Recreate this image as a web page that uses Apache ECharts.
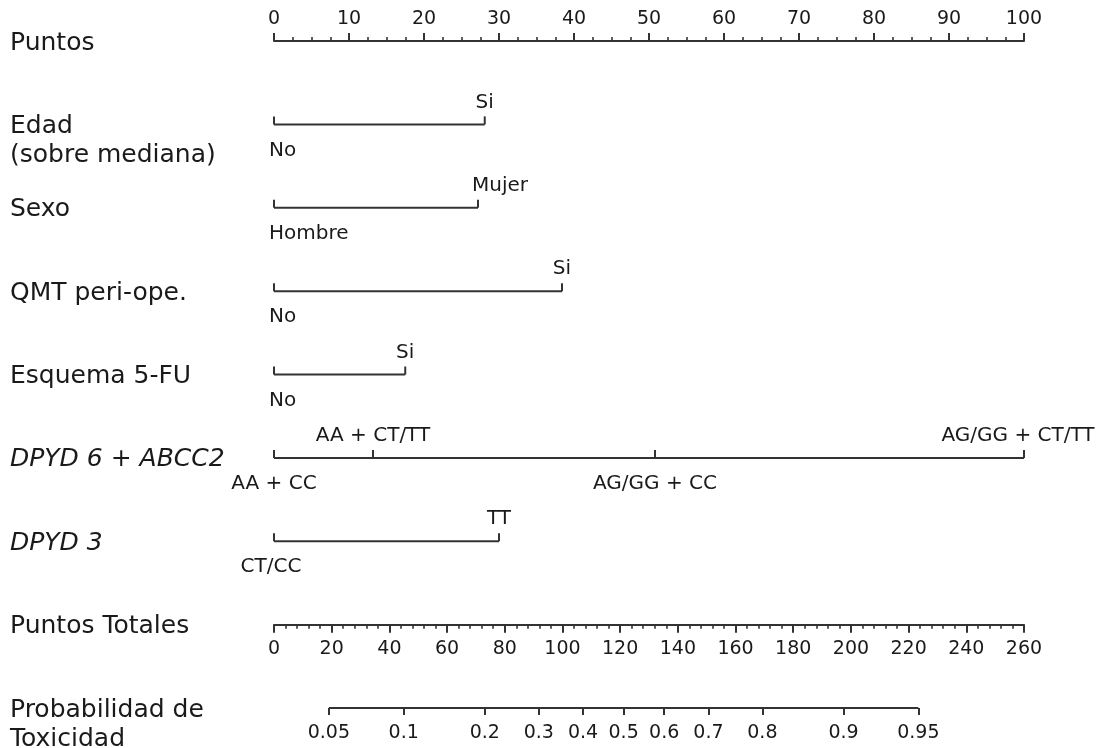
<!DOCTYPE html>
<html>
<head>
<meta charset="utf-8">
<script src="https://cdn.jsdelivr.net/npm/echarts@6.0.0/dist/echarts.min.js"></script>
<style>html,body{margin:0;padding:0;background:#fff;}#chart{width:1108px;height:748px;}</style>
</head>
<body>
<div id="chart"></div>
<script>
// ---------------- data ----------------
const rowNames = ['Puntos', 'Edad\n(sobre mediana)', 'Sexo', 'QMT peri-ope.', 'Esquema 5-FU',
  'DPYD 6 + ABCC2', 'DPYD 3', 'Puntos Totales', 'Probabilidad de\nToxicidad'];

const edadLevels = ['No', 'Si'];
const edadPoints = [0, 28.1];
const sexoLevels = ['Hombre', 'Mujer'];
const sexoPoints = [0, 27.2];
const qmtLevels = ['No', 'Si'];
const qmtPoints = [0, 38.4];
const esquemaLevels = ['No', 'Si'];
const esquemaPoints = [0, 17.5];
const dpyd6Levels = ['AA + CC', 'AA + CT/TT', 'AG/GG + CC', 'AG/GG + CT/TT'];
const dpyd6Points = [0, 13.2, 50.8, 100];
const dpyd3Levels = ['CT/CC', 'TT'];
const dpyd3Points = [0, 30.0];

const pointsMax = 100;
const totalPointsMax = 260;
const probTicks = [0.05, 0.1, 0.2, 0.3, 0.4, 0.5, 0.6, 0.7, 0.8, 0.9, 0.95];
// logistic model: total points at p=0.5, total points per logit unit
const lpCenter = 121.2;
const lpScale = 34.7;

// ---------------- layout / style ----------------
const LINE = '#333333';
const TEXT = '#1a1a1a';
const FONT = 'DejaVu Sans';
const LW = 2;
const GRID = { left: 274, right: 84, top: 41, bottom: 40 };
const rowStep = (748 - GRID.top - GRID.bottom) / (rowNames.length - 1);

const variables = [
  { row: rowNames[1], levels: edadLevels, points: edadPoints },
  { row: rowNames[2], levels: sexoLevels, points: sexoPoints },
  { row: rowNames[3], levels: qmtLevels, points: qmtPoints },
  { row: rowNames[4], levels: esquemaLevels, points: esquemaPoints },
  { row: rowNames[5], levels: dpyd6Levels, points: dpyd6Points },
  { row: rowNames[6], levels: dpyd3Levels, points: dpyd3Points }
];
// label tweaks (alignment only)
const labelTweaks = {
  'Edad\n(sobre mediana)|No': { align: 'left', offset: [-5, 0] },
  'Sexo|Hombre': { align: 'left', offset: [-5, 0] },
  'Sexo|Mujer': { offset: [22, 0] },
  'QMT peri-ope.|No': { align: 'left', offset: [-5, 0] },
  'Esquema 5-FU|No': { align: 'left', offset: [-5, 0] },
  'DPYD 6 + ABCC2|AG/GG + CT/TT': { offset: [-6, 0] },
  'DPYD 3|CT/CC': { offset: [-3, 0] }
};

const logit = p => Math.log(p / (1 - p));
const tpOfProb = p => lpCenter + lpScale * logit(p);
const probOfTp = v => 1 / (1 + Math.exp(-(v - lpCenter) / lpScale));
const probTickTp = probTicks.map(tpOfProb);

const series = [];
variables.forEach(v => {
  const maxPts = Math.max.apply(null, v.points);
  series.push({
    type: 'line', xAxisIndex: 0, yAxisIndex: 0, silent: true,
    symbol: 'none', lineStyle: { color: LINE, width: LW },
    data: [[0, v.row], [maxPts, v.row]]
  });
  const order = v.points.map((p, i) => i).sort((a, b) => v.points[a] - v.points[b]);
  series.push({
    type: 'scatter', xAxisIndex: 0, yAxisIndex: 0, silent: true,
    symbol: 'rect', symbolSize: [LW, 8], symbolOffset: [0, -4],
    itemStyle: { color: LINE, opacity: 1 },
    data: order.map((idx, k) => {
      const tw = labelTweaks[v.row + '|' + v.levels[idx]] || {};
      const above = k % 2 === 1;
      return {
        value: [v.points[idx], v.row],
        name: v.levels[idx],
        label: Object.assign({
          position: above ? 'top' : 'bottom',
          distance: above ? 4 : 16
        }, tw)
      };
    }),
    label: { show: true, formatter: p => p.name, fontSize: 20, color: TEXT, fontFamily: FONT }
  });
});
// probability axis line
series.push({
  type: 'line', xAxisIndex: 2, yAxisIndex: 0, silent: true, symbol: 'none',
  lineStyle: { color: LINE, width: LW },
  data: [[tpOfProb(probTicks[0]), rowNames[8]], [tpOfProb(probTicks[probTicks.length - 1]), rowNames[8]]]
});

const option = {
  animation: false,
  backgroundColor: '#fff',
  textStyle: { fontFamily: FONT },
  grid: {
    left: GRID.left, right: GRID.right, top: GRID.top, bottom: GRID.bottom,
    containLabel: false, outerBoundsMode: 'none'
  },
  xAxis: [
    { // Puntos
      type: 'value', position: 'top', min: 0, max: pointsMax, interval: 10,
      axisLine: { show: true, lineStyle: { color: LINE, width: LW } },
      axisTick: { show: true, length: 8, lineStyle: { color: LINE, width: LW } },
      minorTick: { show: true, splitNumber: 4, length: 4, lineStyle: { color: LINE, width: 1.6 } },
      axisLabel: { show: true, fontSize: 19, color: TEXT, margin: 12 },
      splitLine: { show: false }
    },
    { // Puntos Totales
      type: 'value', position: 'bottom', offset: -rowStep, min: 0, max: totalPointsMax, interval: 20,
      axisLine: { show: true, onZero: false, lineStyle: { color: LINE, width: LW } },
      axisTick: { show: true, length: 8, lineStyle: { color: LINE, width: LW } },
      minorTick: { show: true, splitNumber: 5, length: 4, lineStyle: { color: LINE, width: 1.6 } },
      axisLabel: { show: true, fontSize: 19, color: TEXT, margin: 15 },
      splitLine: { show: false }
    },
    { // Probabilidad de Toxicidad (in total-points space)
      type: 'value', position: 'bottom', offset: 0, min: 0, max: totalPointsMax,
      axisLine: { show: false },
      axisTick: { show: true, length: 7, customValues: probTickTp, lineStyle: { color: LINE, width: LW } },
      axisLabel: {
        show: true, fontSize: 19, color: TEXT, margin: 16, customValues: probTickTp,
        formatter: v => String(Number(probOfTp(v).toFixed(2)))
      },
      splitLine: { show: false }
    }
  ],
  yAxis: {
    type: 'category', inverse: true, boundaryGap: false, data: rowNames,
    axisLine: { show: false }, axisTick: { show: false }, splitLine: { show: false },
    axisLabel: {
      show: true, interval: 0, align: 'left', margin: GRID.left - 10,
      fontSize: 25, color: TEXT, lineHeight: 29, padding: [4, 0, 0, 0],
      formatter: name => {
        if (name.indexOf('DPYD') === 0) return '{i|' + name + '}';
        if (name.indexOf('\n') >= 0) return ' \n' + name;
        return name;
      },
      rich: { i: { fontStyle: 'italic', fontSize: 25, color: TEXT, fontFamily: FONT } }
    }
  },
  series: series
};

const chart = echarts.init(document.getElementById('chart'), null, { renderer: 'canvas' });
chart.setOption(option);
</script>
</body>
</html>
